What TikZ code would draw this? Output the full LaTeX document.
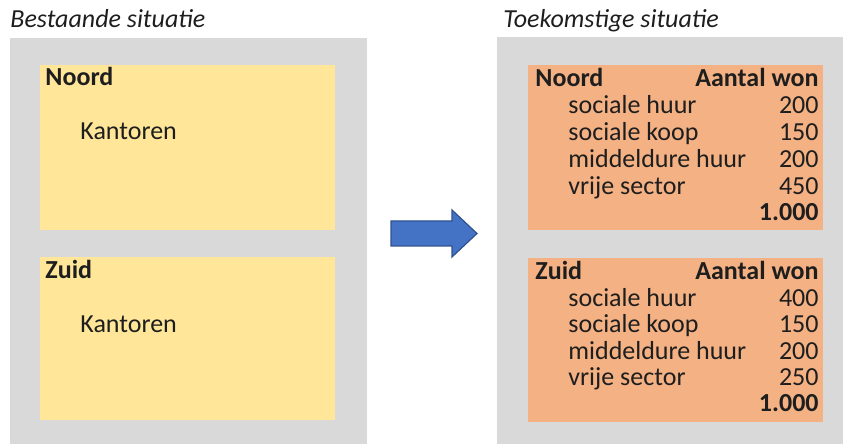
\documentclass[tikz,border=0pt]{standalone}
\usepackage{fontspec}
\setmainfont{Carlito}
\usepackage{tikz}
\usetikzlibrary{fit}
\definecolor{panelgray}{HTML}{D9D9D9}
\definecolor{oldyellow}{HTML}{FFE699}
\definecolor{neworange}{HTML}{F4B183}
\definecolor{arrowblue}{HTML}{4472C4}
\definecolor{arrowedge}{HTML}{2F528F}
\definecolor{inkgray}{HTML}{1E1E1E}

\begin{document}
\begin{tikzpicture}[
        x=0.5pt,y=-0.5pt,
        panel/.style={fill=panelgray,inner sep=0pt},
        oldbox/.style={fill=oldyellow,inner sep=0pt},
        newbox/.style={fill=neworange,inner sep=0pt},
        title/.style={font=\fontsize{13}{15}\selectfont\itshape,inkgray,
                      anchor=base west,inner sep=0pt},
        head/.style={font=\fontsize{13}{15}\selectfont\bfseries,inkgray,inner sep=0pt},
        item/.style={font=\fontsize{13}{15}\selectfont,inkgray,
                     anchor=base west,inner sep=0pt},
        num/.style={font=\fontsize{13}{15}\selectfont,inkgray,
                    anchor=base east,inner sep=0pt}
      ]
        \useasboundingbox (0,0) rectangle (843,444);

        % grey panels
        \node[panel,fit={(10,38)(367,444)}] (old) {};
        \node[panel,fit={(497,37)(843,444)}] (new) {};
        \node[title] (oldtitle) at (10,28) {Bestaande situatie};
        \node[title] (newtitle) at (503,28) {Toekomstige situatie};

        % current situation
        \node[oldbox,fit={(40,65)(335,230)}] (oldnoord) {};
        \node[oldbox,fit={(40,257)(335,420)}] (oldzuid) {};
        \node[head,anchor=base west] (onoord) at (45,86) {Noord};
        \node[item] (okantn) at (80,140) {Kantoren};
        \node[head,anchor=base west] (ozuid) at (45,279) {Zuid};
        \node[item] (okantz) at (80,333) {Kantoren};

        % arrow between the panels
        \filldraw[fill=arrowblue,draw=arrowedge,line width=0.6pt]
          (391,221) -- (452,221) -- (452,210) -- (477,233.5)
          -- (452,257) -- (452,246) -- (391,246) -- cycle;

        % future situation, north
        \node[newbox,fit={(528,65)(823,230)}] (newnoord) {};
        \node[head,anchor=base west] (nnoord) at (535,87) {Noord};
        \node[head,anchor=base east] (nnaant) at (819,87) {Aantal won};
        \node[item] (nn1) at (568,113.8) {sociale huur};
        \node[item] (nn2) at (568,140.6) {sociale koop};
        \node[item] (nn3) at (568,167.4) {middeldure huur};
        \node[item] (nn4) at (568,194.2) {vrije sector};
        \node[num] (nv1) at (819,113.8) {200};
        \node[num] (nv2) at (819,140.6) {150};
        \node[num] (nv3) at (819,167.4) {200};
        \node[num] (nv4) at (819,194.2) {450};
        \node[head,anchor=base east] (nvt) at (819,221) {1.000};

        % future situation, south
        \node[newbox,fit={(528,258)(823,422)}] (newzuid) {};
        \node[head,anchor=base west] (nzuid) at (535,280) {Zuid};
        \node[head,anchor=base east] (nzaant) at (819,280) {Aantal won};
        \node[item] (nz1) at (568,306.4) {sociale huur};
        \node[item] (nz2) at (568,332.8) {sociale koop};
        \node[item] (nz3) at (568,359.2) {middeldure huur};
        \node[item] (nz4) at (568,385.6) {vrije sector};
        \node[num] (zv1) at (819,306.4) {400};
        \node[num] (zv2) at (819,332.8) {150};
        \node[num] (zv3) at (819,359.2) {200};
        \node[num] (zv4) at (819,385.6) {250};
        \node[head,anchor=base east] (zvt) at (819,412) {1.000};
      \end{tikzpicture}
\end{document}
